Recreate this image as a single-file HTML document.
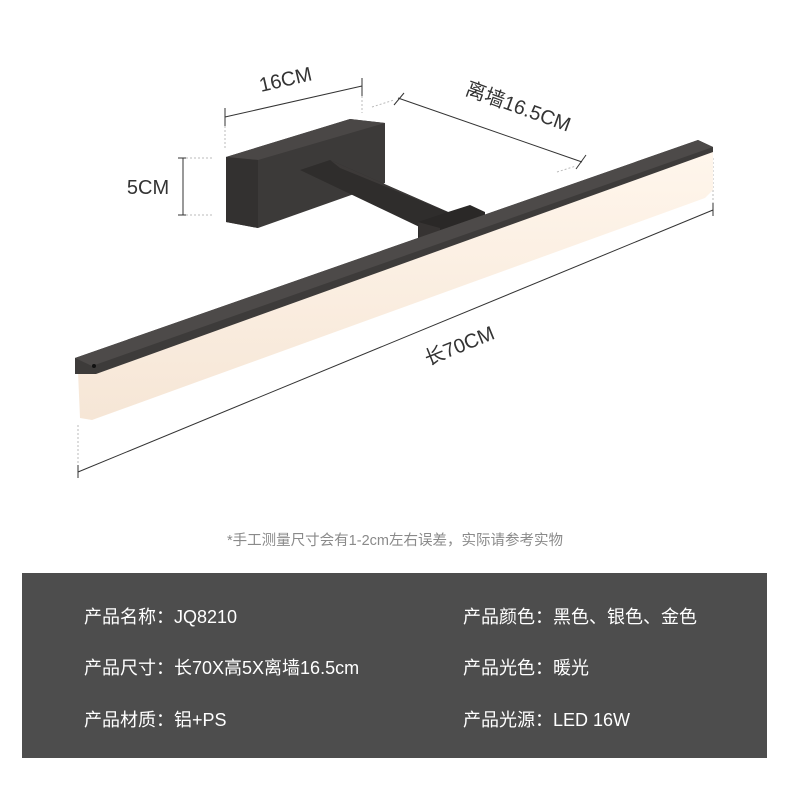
<!DOCTYPE html>
<html><head><meta charset="utf-8"><style>
body{margin:0;width:790px;height:791px;background:#fff;position:relative;overflow:hidden;font-family:"Liberation Sans","Noto Sans CJK SC",sans-serif}
.note{position:absolute;top:529px;left:0;width:790px;text-align:center;font-size:14.5px;color:#8a8a8a}
.panel{position:absolute;left:22px;top:573px;width:745px;height:185px;background:#4d4d4d}
.t{position:absolute;color:#fff;font-size:18px;white-space:nowrap}
</style></head><body>
<svg width="790" height="520" style="position:absolute;left:0;top:0">
<defs>
<linearGradient id="lg" x1="0" y1="0" x2="0" y2="1"><stop offset="0" stop-color="#fff6ec"/><stop offset="1" stop-color="#f6e6d6"/></linearGradient>
</defs>
<g stroke="#333" stroke-width="1" fill="none">
<line x1="225" y1="117" x2="362" y2="86"/><line x1="225" y1="108" x2="225" y2="126"/><line x1="362" y1="78" x2="362" y2="96"/>
<line x1="398" y1="98" x2="582" y2="162"/><line x1="394" y1="105" x2="404" y2="93"/><line x1="576" y1="169" x2="586" y2="155"/>
<line x1="183" y1="158" x2="183" y2="215"/><line x1="178" y1="158" x2="188" y2="158"/><line x1="178" y1="215" x2="188" y2="215"/>
<line x1="78" y1="472" x2="713" y2="210"/><line x1="78" y1="465" x2="78" y2="478"/><line x1="713" y1="203" x2="713" y2="216"/>
</g>
<g stroke="#bbb" stroke-width="1" stroke-dasharray="2,2" fill="none">
<line x1="225" y1="126" x2="225" y2="150"/><line x1="362" y1="96" x2="362" y2="113"/>
<line x1="186" y1="158" x2="212" y2="158"/><line x1="186" y1="215" x2="212" y2="215"/>
<line x1="372" y1="107" x2="394" y2="100"/><line x1="557" y1="172" x2="576" y2="166"/>
<line x1="78" y1="425" x2="78" y2="465"/><line x1="713" y1="158" x2="713" y2="203"/>
</g>
<polygon points="226,157 350,119 385,123 385,183 258,228 226,222" fill="#3c3a39"/>
<polygon points="226,157 350,119 385,123 258,160" fill="#4a4746"/>
<polygon points="226,157 258,160 258,228 226,222" fill="#333130"/>
<polygon points="300,170 330,160 455,215 430,232" fill="#2f2d2c"/>
<polygon points="330,160 340,168 455,215" fill="#3d3a39"/>
<polygon points="418,222 448,212 470,205 485,212 485,240 460,250 440,258 420,262 418,245" fill="#2a2827"/>
<polygon points="418,222 440,228 440,258 420,262" fill="#363332"/>
<polygon points="78,372 96,372 713,150 713,190 705,198 92,420 80,418" fill="url(#lg)"/>
<polygon points="75,358 698,140 713,147 713,152 96,374 75,374" fill="#3d3b3a"/>
<polygon points="75,358 698,140 713,147 92,366" fill="#4d4a49"/>
<circle cx="94" cy="366" r="2" fill="#111"/>
<g font-family="Liberation Sans,Noto Sans CJK SC,sans-serif" font-size="20" fill="#333">
<text x="287" y="86" text-anchor="middle" transform="rotate(-13 287 86)">16CM</text>
<text x="516" y="113" text-anchor="middle" transform="rotate(20 516 113)">离墙16.5CM</text>
<text x="148" y="194" text-anchor="middle">5CM</text>
<text x="462" y="352" text-anchor="middle" transform="rotate(-22 462 352)">长70CM</text>
</g>
</svg>
<div class="note">*手工测量尺寸会有1-2cm左右误差，实际请参考实物</div>
<div class="panel">
<div class="t" style="left:62px;top:30px">产品名称：JQ8210</div>
<div class="t" style="left:62px;top:81px">产品尺寸：长70X高5X离墙16.5cm</div>
<div class="t" style="left:62px;top:133px">产品材质：铝+PS</div>
<div class="t" style="left:441px;top:30px">产品颜色：黑色、银色、金色</div>
<div class="t" style="left:441px;top:81px">产品光色：暖光</div>
<div class="t" style="left:441px;top:133px">产品光源：LED 16W</div>
</div>
</body></html>
